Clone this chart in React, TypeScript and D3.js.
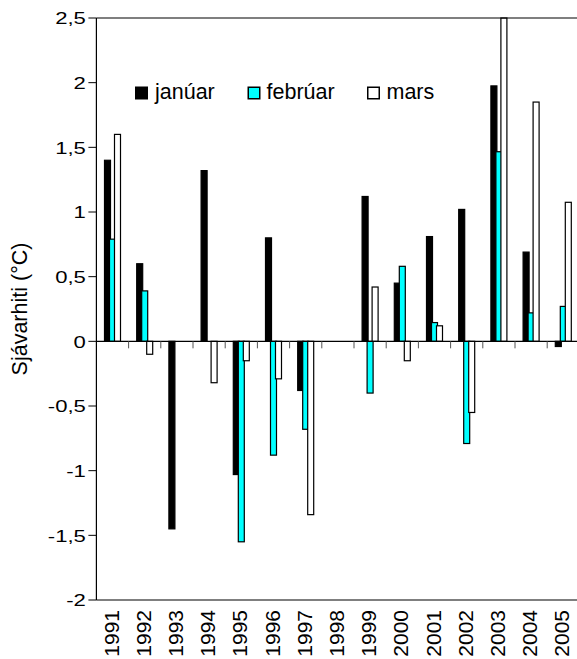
import React from "react";
import * as d3 from "d3";

const years = ["1991","1992","1993","1994","1995","1996","1997","1998","1999","2000","2001","2002","2003","2004","2005"];
const januar = [1.40, 0.60, -1.45, 1.32, -1.03, 0.80, -0.38, 0, 1.12, 0.45, 0.81, 1.02, 1.975, 0.69, -0.04];
const februar = [0.79, 0.39, 0, 0, -1.55, -0.88, -0.68, 0, -0.40, 0.58, 0.145, -0.79, 1.466, 0.22, 0.27];
const mars = [1.60, -0.10, 0, -0.32, -0.15, -0.29, -1.34, 0, 0.42, -0.15, 0.12, -0.55, 2.5, 1.85, 1.075];
const yTicks = [2.5, 2, 1.5, 1, 0.5, 0, -0.5, -1, -1.5, -2];
const seriesNames = ["janúar", "febrúar", "mars"];
const seriesColors = ["#000000", "#00ffff", "#ffffff"];

export default function App() {
  const W = 577, H = 659;
  const left = 96.4, top = 18, bottom = 600;
  const bandW = 32.2;
  const right = left + bandW * years.length;
  const x = d3.scaleBand<string>().domain(years).range([left, right]).padding(0);
  const y = d3.scaleLinear().domain([-2, 2.5]).range([bottom, top]);
  const series = [januar, februar, mars];
  const barW = 6;
  const step = 5;
  const fmt = (v: number) => String(v).replace(".", ",");
  const font = "'Liberation Sans', Arial, sans-serif";
  const y0 = y(0);

  return (
    <svg width={W} height={H} style={{ position: "absolute", left: 0, top: 0, background: "#fff" }} fontFamily={font}>
      <rect x={0} y={0} width={W} height={H} fill="#fff" />
      {series.map((vals, si) =>
        vals.map((v, i) => {
          if (v === 0) return null;
          const c = (x(years[i]) as number) + x.bandwidth() / 2;
          const bx = c - 8 + si * step;
          const y1 = y(Math.max(0, v));
          const y2 = y(Math.min(0, v));
          return (
            <rect key={`${si}-${i}`} x={bx} y={y1} width={barW} height={Math.max(0.5, y2 - y1)}
              fill={seriesColors[si]} stroke="#000" strokeWidth={1.2} />
          );
        })
      )}
      <line x1={left} x2={W} y1={top} y2={top} stroke="#000" strokeWidth={1.2} />
      <line x1={left} x2={W} y1={bottom} y2={bottom} stroke="#000" strokeWidth={1.2} />
      <line x1={left} x2={left} y1={top} y2={bottom} stroke="#000" strokeWidth={1.2} />
      <line x1={left} x2={W} y1={y0} y2={y0} stroke="#000" strokeWidth={1.2} />
      {years.slice(1).map((yr) => {
        const tx = x(yr) as number;
        return <line key={yr} x1={tx} x2={tx} y1={y0} y2={y0 + 7} stroke="#555" strokeWidth={1} />;
      })}
      {yTicks.map((t) => (
        <g key={t}>
          <line x1={left - 8} x2={left} y1={y(t)} y2={y(t)} stroke="#000" strokeWidth={1} />
          <text transform={`translate(${left - 10.5},${y(t) + 6.2}) scale(1.3,1)`} textAnchor="end" fontSize={17} fill="#000">{fmt(t)}</text>
        </g>
      ))}
      {years.map((yr) => {
        const c = (x(yr) as number) + x.bandwidth() / 2;
        return (
          <text key={yr} transform={`translate(${c + 6},${bottom + 10}) rotate(-90)`} textAnchor="end" fontSize={21} fill="#000">{yr}</text>
        );
      })}
      <text transform={`translate(27,309) rotate(-90)`} textAnchor="middle" fontSize={21.5} fill="#000">Sjávarhiti (°C)</text>
      {[{ sx: 135, tx: 155 }, { sx: 247.5, tx: 266.5 }, { sx: 367, tx: 386.5 }].map((p, i) => (
        <g key={i}>
          <rect x={p.sx + 0.75} y={87.25} width={11.5} height={11.5} fill={seriesColors[i]} stroke="#000" strokeWidth={1.5} />
          <text x={p.tx} y={99} fontSize={21.5} fill="#000">{seriesNames[i]}</text>
        </g>
      ))}
    </svg>
  );
}
